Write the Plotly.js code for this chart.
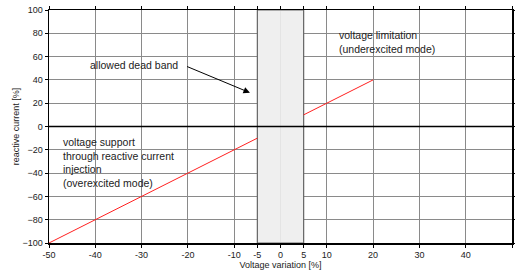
<!DOCTYPE html>
<html><head><meta charset="utf-8">
<script src="https://cdn.plot.ly/plotly-3.0.1.min.js"></script>
<style>html,body{margin:0;padding:0;background:#fff}#c{width:515px;height:275px}</style>
</head><body><div id="c"></div>
<script>
const xTicks = [-50,-40,-30,-20,-10,-5,0,5,10,20,30,40,50];
const yTicks = [-100,-80,-60,-40,-20,0,20,40,60,80,100];
const lowX = [-50,-5];
const lowY = [-100,-10];
const highX = [5,20];
const highY = [10,40];
const bandCenter = [0];
const bandWidth = [10];
const bandBase = [-100];
const bandHeight = [200];
const fnt = {family:'Liberation Sans, Arial, sans-serif', size:9, color:'#222'};
const afnt = {family:'Liberation Sans, Arial, sans-serif', size:10.5, color:'#222'};
const traces = [
  {type:'bar', x:bandCenter, y:bandHeight, base:bandBase, width:bandWidth, marker:{color:'#efefef', line:{color:'#666', width:1.2}}, hoverinfo:'skip', showlegend:false},
  {x:lowX, y:lowY, mode:'lines', line:{color:'#ff2020', width:1}, hoverinfo:'skip', showlegend:false},
  {x:highX, y:highY, mode:'lines', line:{color:'#ff2020', width:1}, hoverinfo:'skip', showlegend:false}
];
const layout = {
  width:515, height:275,
  margin:{l:49, r:3, t:10, b:32},
  paper_bgcolor:'#fff', plot_bgcolor:'#fff',
  font:fnt,
  xaxis:{range:[-50,50], tickvals:xTicks, ticktext:xTicks.map(String), showgrid:true, gridcolor:'#8a8a8a', gridwidth:1,
    zeroline:false, showline:true, linecolor:'#000', linewidth:1.5, mirror:'ticks', ticks:'outside', ticklen:3, tickcolor:'#000',
    tickfont:fnt, title:{text:'Voltage variation [%]', font:fnt, standoff:2}},
  yaxis:{range:[-100,100], tickvals:yTicks, showgrid:true, gridcolor:'#8a8a8a', gridwidth:1,
    zeroline:false, showline:true, linecolor:'#000', linewidth:1.5, mirror:'ticks', ticks:'outside', ticklen:3, tickcolor:'#000',
    tickfont:fnt, title:{text:'reactive current [%]', font:fnt, standoff:1}},
  shapes:[
    {type:'line', xref:'x', yref:'y', x0:0, x1:0, y0:-99, y1:99, line:{color:'#e4e4e4', width:1}, layer:'above'},
    {type:'line', xref:'x', yref:'y', x0:-50, x1:50, y0:0, y1:0, line:{color:'#000', width:1.3}, layer:'above'}
  ],
  annotations:[
    {x:-6.6, y:29, ax:-20.5, ay:52, axref:'x', ayref:'y', xref:'x', yref:'y', showarrow:true, arrowhead:2, arrowsize:1.3, arrowwidth:1, arrowcolor:'#000', text:''},
    {x:-21.8, y:53, xref:'x', yref:'y', text:'allowed dead band', showarrow:false, xanchor:'right', yanchor:'middle', font:afnt},
    {x:12.2, y:85, xref:'x', yref:'y', text:'voltage limitation<br>(underexcited mode)', showarrow:false, xanchor:'left', yanchor:'top', align:'left', font:afnt},
    {x:-47.5, y:-6.5, xref:'x', yref:'y', text:'voltage support<br>through reactive current<br>injection<br>(overexcited mode)', showarrow:false, xanchor:'left', yanchor:'top', align:'left', font:afnt}
  ]
};
Plotly.newPlot('c', traces, layout, {displayModeBar:false, staticPlot:true});
</script></body></html>
